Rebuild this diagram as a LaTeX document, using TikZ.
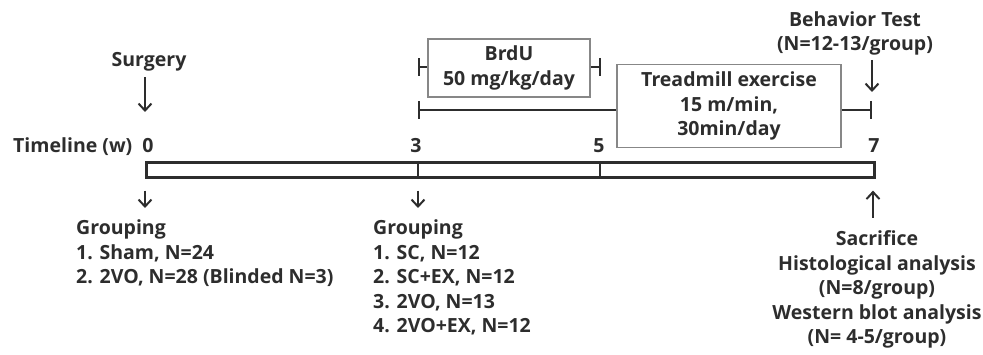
\documentclass[tikz,border=0pt]{standalone}
\usepackage{fontspec}
\setmainfont{Open Sans}
\usepackage{xcolor}
\usepackage{tikz}
\usetikzlibrary{arrows.meta,positioning}
\definecolor{inkgray}{RGB}{45,45,45}
\definecolor{boxgray}{RGB}{135,135,135}
\tikzset{
  txt/.style={font=\bfseries\fontsize{19.5}{24.6}\selectfont, text=inkgray, inner sep=0pt},
  phasebox/.style={draw=boxgray, line width=1.6pt, rectangle, align=center, txt},
  arr/.style={-{Straight Barb[length=7pt,width=13pt]}, line width=2pt, inkgray},
  spanline/.style={line width=2.2pt, inkgray}
}

\begin{document}
\begin{tikzpicture}[x=1pt, y=-1pt]
        \useasboundingbox (0,0) rectangle (983,355);

        % Timeline bar with week ticks
        \node[txt, anchor=base west] (timeline) at (13,153) {Timeline (w)};
        \node[txt, anchor=base] (w0) at (148,153) {0};
        \node[txt, anchor=base] (w3) at (416,153) {3};
        \node[txt, anchor=base] (w5) at (599,153) {5};
        \node[txt, anchor=base] (w7) at (874,153) {7};

        \node[draw=inkgray, line width=2.6pt, rectangle, anchor=north west, minimum width=728pt, minimum height=15pt, inner sep=0pt] (bar) at (145,161) {};

        \coordinate (t0) at (145,161);
        \coordinate (t3) at (418,161);
        \coordinate (t5) at (600,161);
        \coordinate (t7) at (873,161);
        \draw[spanline] (t3) -- (t3 |- bar.south);
        \draw[spanline] (t5) -- (t5 |- bar.south);

        % Surgery at week 0
        \node[txt, anchor=base] (surgery) at (149,67) {Surgery};
        \coordinate (surgery end) at (145,112);
        \draw[arr, shorten <=5pt] (surgery.south -| surgery end) -- (surgery end);

        % BrdU injections, weeks 3-5
        \node[phasebox, minimum width=162pt, minimum height=58pt] (brdu) at (509,68) {BrdU\\50 mg/kg/day};
        \coordinate (brdu start) at (418,67);
        \coordinate (brdu stop) at (601,67);
        \draw[spanline, {Bar[width=18pt]}-] (brdu start) -- (brdu.west |- brdu start);
        \draw[spanline, -{Bar[width=18pt]}] (brdu.east |- brdu stop) -- (brdu stop);

        % Treadmill exercise, weeks 3-7
        \node[phasebox, minimum width=224pt, minimum height=83pt] (tread) at (729,106) {Treadmill exercise\\15 m/min,\\30min/day};
        \coordinate (tread start) at (418,110);
        \coordinate (tread stop) at (872,110);
        \draw[spanline, {Bar[width=18pt]}-] (tread start) -- (tread.west |- tread start);
        \draw[spanline, -{Bar[width=18pt]}] (tread.east |- tread stop) -- (tread stop);

        % Behavior test at week 7 (base = last line)
        \node[txt, anchor=base, align=center] (behav) at (855,51) {Behavior Test\\(N=12-13/group)};
        \coordinate (behav end) at (872,92);
        \draw[arr, shorten <=4pt] (behav.south -| behav end) -- (behav end);

        % Grouping and sacrifice below the bar
        \node[txt, anchor=base west, align=left] (group0) at (76,284) {Grouping\\1. Sham, N=24\\2. 2VO, N=28 (Blinded N=3)};
        \node[txt, anchor=base west, align=left] (group3) at (373,333) {Grouping\\1. SC, N=12\\2. SC+EX, N=12\\3. 2VO, N=13\\4. 2VO+EX, N=12};
        \node[txt, anchor=base, align=center] (sacrifice) at (877,344) {Sacrifice\\Histological analysis\\(N=8/group)\\Western blot analysis\\(N= 4-5/group)};

        \coordinate (group0 end) at (145,208);
        \coordinate (group3 end) at (418,208);
        \coordinate (sacrifice start) at (873,218);
        \draw[arr, shorten <=12pt] (t0 |- bar.south) -- (group0 end);
        \draw[arr, shorten <=12pt] (t3 |- bar.south) -- (group3 end);
        \draw[arr, shorten >=12pt] (sacrifice start) -- (t7 |- bar.south);
    \end{tikzpicture}
\end{document}
